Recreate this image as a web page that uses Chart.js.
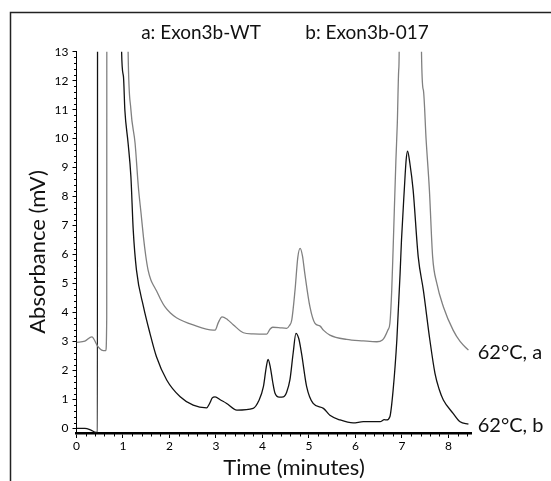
<!DOCTYPE html>
<html>
<head>
<meta charset="utf-8">
<script src="https://cdn.jsdelivr.net/npm/chart.js@4"></script>
<style>
  body { margin: 0; background: #fff; }
  canvas { display: block; }
</style>
</head>
<body>
<canvas id="chromatogram" width="551" height="481"></canvas>
<script>
// run a: Exon3b-WT (gray trace)
const timeA = [0, 0.18, 0.33, 0.45, 0.54, 0.63, 0.65, 0.655, 1.0, 1.11, 1.17, 1.26, 1.33, 1.39, 1.44, 1.49, 1.54, 1.60, 1.66, 1.72, 1.81, 1.90, 2.02, 2.15, 2.51, 2.94, 2.98, 3.05, 3.13, 3.25, 3.37, 3.59, 3.80, 4.09, 4.16, 4.22, 4.35, 4.52, 4.58, 4.63, 4.70, 4.76, 4.81, 4.86, 4.91, 5.02, 5.13, 5.24, 5.31, 5.45, 5.81, 6.17, 6.46, 6.58, 6.63, 6.70, 6.74, 6.78, 6.81, 6.87, 6.90, 6.93, 6.94, 6.96, 7.40, 7.42, 7.46, 7.52, 7.59, 7.66, 7.75, 7.89, 8.10, 8.25, 8.43];
const valueA = [2.97, 3.01, 3.16, 2.85, 2.70, 2.68, 3.84, 30, 30, 13, 11.0, 9.84, 8.34, 7.4, 6.6, 5.95, 5.46, 5.12, 4.92, 4.75, 4.45, 4.2, 3.98, 3.82, 3.57, 3.39, 3.39, 3.65, 3.85, 3.75, 3.58, 3.30, 3.26, 3.25, 3.42, 3.49, 3.48, 3.45, 3.55, 3.74, 4.77, 5.9, 6.21, 5.95, 5.35, 4.20, 3.62, 3.53, 3.39, 3.22, 3.07, 3.02, 2.99, 3.05, 3.16, 3.40, 3.62, 4.77, 6.2, 9.26, 10.53, 12.37, 13, 30, 30, 13, 11.68, 9.95, 8.23, 5.92, 5.0, 4.2, 3.39, 3.0, 2.70];

// run b: Exon3b-017 (black trace)
const timeB = [0, 0.18, 0.30, 0.42, 0.45, 0.455, 0.90, 0.97, 1.01, 1.04, 1.11, 1.17, 1.22, 1.29, 1.44, 1.58, 1.72, 1.94, 2.23, 2.51, 2.80, 2.86, 2.92, 2.98, 3.10, 3.23, 3.45, 3.80, 3.92, 4.02, 4.08, 4.12, 4.17, 4.22, 4.27, 4.36, 4.45, 4.52, 4.59, 4.66, 4.72, 4.78, 4.84, 4.95, 5.09, 5.31, 5.45, 5.67, 5.95, 6.17, 6.53, 6.62, 6.67, 6.74, 6.81, 6.89, 6.96, 6.99, 7.05, 7.09, 7.12, 7.17, 7.24, 7.35, 7.46, 7.60, 7.71, 7.80, 7.89, 8.10, 8.25, 8.43];
const valueB = [0.0, 0.0, -0.05, -0.14, -0.14, 30, 30, 13, 12.14, 10.99, 9.84, 8.69, 6.85, 5.46, 4.2, 3.28, 2.47, 1.67, 1.09, 0.80, 0.71, 0.85, 1.05, 1.09, 0.98, 0.86, 0.63, 0.69, 0.95, 1.44, 2.1, 2.38, 2.1, 1.6, 1.21, 1.08, 1.09, 1.25, 1.67, 2.6, 3.28, 3.1, 2.59, 1.44, 0.86, 0.69, 0.45, 0.29, 0.19, 0.23, 0.23, 0.30, 0.29, 0.40, 1.32, 3.05, 5.35, 6.5, 8.23, 9.26, 9.57, 9.15, 8.23, 5.92, 4.77, 3.05, 1.90, 1.35, 0.98, 0.52, 0.23, 0.15];

const traceLabels = ['62°C, a', '62°C, b'];
const runLabels = ['a: Exon3b-WT', 'b: Exon3b-017'];
const xTitle = 'Time (minutes)';
const yTitle = 'Absorbance (mV)';

const FONT = 'Lato, "Open Sans", sans-serif';

const toPoints = (xs, ys) => xs.map((x, i) => ({ x: x, y: ys[i] }));

const decorations = {
    id: 'decorations',
    beforeDraw(chart) {
        const ctx = chart.ctx;
        ctx.save();
        ctx.strokeStyle = '#222';
        ctx.lineWidth = 1.5;
        ctx.beginPath();
        ctx.moveTo(10.5, 481);
        ctx.lineTo(10.5, 12.5);
        ctx.lineTo(551, 12.5);
        ctx.stroke();
        ctx.restore();
    },
    afterDraw(chart) {
        const ctx = chart.ctx;
        const x = chart.scales.x;
        const y = chart.scales.y;
        const area = chart.chartArea;
        ctx.save();
        ctx.strokeStyle = '#000';
        ctx.lineWidth = 1;
        // minor ticks every 0.2
        ctx.beginPath();
        for (let i = 0; i <= 65; i++) {
            if (i % 5 === 0) continue;
            const py = Math.round(y.getPixelForValue(i * 0.2)) + 0.5;
            ctx.moveTo(area.left - 2.5, py);
            ctx.lineTo(area.left, py);
        }
        for (let i = 0; i <= 42; i++) {
            if (i % 5 === 0) continue;
            const px = Math.round(x.getPixelForValue(i * 0.2)) + 0.5;
            ctx.moveTo(px, area.bottom);
            ctx.lineTo(px, area.bottom + 3.5);
        }
        ctx.stroke();

        ctx.fillStyle = '#111';
        ctx.textBaseline = 'middle';
        ctx.textAlign = 'center';
        ctx.font = '19px ' + FONT;
        ctx.fillText(runLabels[0], 201, 33);
        ctx.fillText(runLabels[1], 367, 33);

        // axis titles
        ctx.font = '22px ' + FONT;
        ctx.fillText(xTitle, 294, 468);
        ctx.save();
        ctx.translate(38, 252);
        ctx.rotate(-Math.PI / 2);
        ctx.fillText(yTitle, 0, 0);
        ctx.restore();

        ctx.textAlign = 'left';
        ctx.font = '20px ' + FONT;
        chart.data.datasets.forEach((ds, i) => {
            const last = ds.data[ds.data.length - 1];
            ctx.fillText(traceLabels[i], area.right + 6, y.getPixelForValue(last.y) + 2);
        });
        ctx.restore();
    }
};

new Chart(document.getElementById('chromatogram'), {
    type: 'line',
    data: {
        datasets: [{
            label: runLabels[0],
            data: toPoints(timeA, valueA),
            borderColor: '#808080',
            borderWidth: 1.3,
            pointRadius: 0,
            cubicInterpolationMode: 'monotone'
        }, {
            label: runLabels[1],
            data: toPoints(timeB, valueB),
            borderColor: '#111',
            borderWidth: 1.3,
            pointRadius: 0,
            cubicInterpolationMode: 'monotone'
        }]
    },
    options: {
        responsive: false,
        animation: false,
        layout: { padding: { top: 51.7, right: 79.3, left: 0, bottom: 0 } },
        plugins: { legend: { display: false }, tooltip: { enabled: false } },
        scales: {
            x: {
                type: 'linear',
                min: 0,
                max: 8.5,
                afterFit: s => { s.height = 48; },
                grid: { drawOnChartArea: false, tickLength: 5, color: '#000', tickWidth: 1 },
                border: { display: true, color: '#000', width: 2.5 },
                ticks: {
                    stepSize: 1,
                    includeBounds: false,
                    maxRotation: 0,
                    padding: 1,
                    color: '#000',
                    font: { family: FONT, size: 12 }
                }
            },
            y: {
                min: -0.16,
                max: 13,
                afterFit: s => { s.width = 76.5; },
                grid: { drawOnChartArea: false, tickLength: 4, color: '#000', tickWidth: 1 },
                border: { display: true, color: '#000', width: 1 },
                ticks: {
                    stepSize: 1,
                    includeBounds: false,
                    padding: 4,
                    color: '#000',
                    font: { family: FONT, size: 12 }
                }
            }
        }
    },
    plugins: [decorations]
});
</script>
</body>
</html>
